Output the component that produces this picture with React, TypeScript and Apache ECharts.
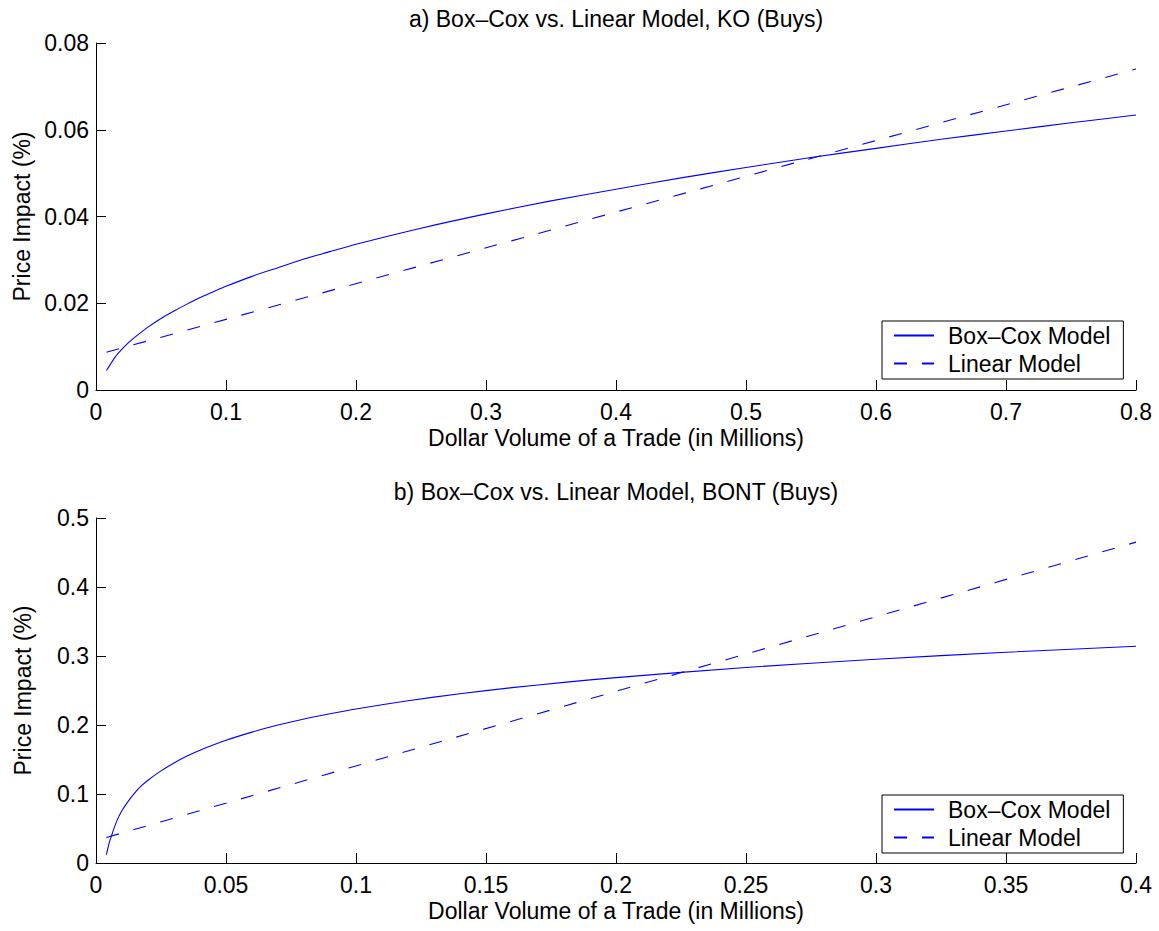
import React, { useEffect, useRef } from "react";
import * as echarts from "echarts";

// ---------- Data ----------
const SERIES_NAMES = ["Box–Cox Model", "Linear Model"];
const TITLES = [
  "a) Box–Cox vs. Linear Model, KO (Buys)",
  "b) Box–Cox vs. Linear Model, BONT (Buys)",
];
const X_AXIS_NAME = "Dollar Volume of a Trade (in Millions)";
const Y_AXIS_NAME = "Price Impact (%)";

// Panel a) KO
const KO_BOXCOX_X = [0.008, 0.01, 0.015, 0.02, 0.025, 0.03, 0.04, 0.05, 0.06, 0.07, 0.08, 0.09, 0.1, 0.12, 0.14, 0.16, 0.18, 0.2, 0.25, 0.3, 0.35, 0.4, 0.45, 0.5, 0.55, 0.6, 0.65, 0.7, 0.75, 0.8];
const KO_BOXCOX_Y = [0.0045, 0.0054, 0.0077, 0.0094, 0.0109, 0.0122, 0.0145, 0.0165, 0.0182, 0.0198, 0.0213, 0.0226, 0.0239, 0.0262, 0.0282, 0.0302, 0.0319, 0.0336, 0.0373, 0.0406, 0.0436, 0.0463, 0.0489, 0.0513, 0.0536, 0.0557, 0.0578, 0.0597, 0.0616, 0.0634];
const KO_LINEAR_X = [0.008, 0.8];
const KO_LINEAR_Y = [0.0087, 0.074];
const KO_X_TICKS = { min: 0, max: 0.8, interval: 0.1 };
const KO_Y_TICKS = { min: 0, max: 0.08, interval: 0.02 };

// Panel b) BONT
const BONT_BOXCOX_X = [0.004, 0.005, 0.006, 0.008, 0.01, 0.0125, 0.015, 0.0175, 0.02, 0.025, 0.03, 0.035, 0.04, 0.05, 0.06, 0.07, 0.08, 0.09, 0.1, 0.12, 0.14, 0.16, 0.18, 0.2, 0.25, 0.3, 0.35, 0.4];
const BONT_BOXCOX_Y = [0.012, 0.028, 0.04, 0.061, 0.076, 0.09, 0.102, 0.112, 0.12, 0.1335, 0.145, 0.155, 0.1635, 0.1778, 0.1897, 0.1999, 0.2086, 0.2163, 0.2233, 0.2352, 0.2453, 0.2541, 0.2618, 0.2687, 0.2834, 0.2953, 0.3054, 0.3142];
const BONT_LINEAR_X = [0.004, 0.4];
const BONT_LINEAR_Y = [0.037, 0.465];
const BONT_X_TICKS = { min: 0, max: 0.4, interval: 0.05 };
const BONT_Y_TICKS = { min: 0, max: 0.5, interval: 0.1 };

const zip = (xs: number[], ys: number[]) => xs.map((x, i) => [x, ys[i]]);

const FONT = "Liberation Sans, Arial, Helvetica, sans-serif";
const BLUE = "#0000ff";

const fmt = (v: number) => String(Math.round(v * 1e6) / 1e6);

function buildOption() {
  const grids = [
    { left: 96, top: 43, width: 1040, height: 347 },
    { left: 96, top: 518, width: 1040, height: 345 },
  ];
  const xTicks = [KO_X_TICKS, BONT_X_TICKS];
  const yTicks = [KO_Y_TICKS, BONT_Y_TICKS];

  const axisCommon = {
    type: "value" as const,
    splitLine: { show: false },
    axisLine: { show: true, onZero: false, lineStyle: { color: "#000", width: 1 } },
    axisTick: { show: true, inside: true, length: 10, lineStyle: { color: "#000", width: 1 } },
    nameTextStyle: { fontFamily: FONT, fontSize: 23, color: "#000" },
  };

  const xAxes = grids.map((_, i) => ({
    ...axisCommon,
    gridIndex: i,
    min: xTicks[i].min,
    max: xTicks[i].max,
    interval: xTicks[i].interval,
    name: X_AXIS_NAME,
    nameLocation: "middle",
    nameGap: 36,
    axisLabel: { fontFamily: FONT, fontSize: 23, color: "#000", margin: 10, formatter: fmt },
  }));
  const yAxes = grids.map((_, i) => ({
    ...axisCommon,
    gridIndex: i,
    min: yTicks[i].min,
    max: yTicks[i].max,
    interval: yTicks[i].interval,
    name: Y_AXIS_NAME,
    nameLocation: "middle",
    nameRotate: 90,
    nameGap: 62,
    axisLabel: { fontFamily: FONT, fontSize: 23, color: "#000", margin: 7, formatter: fmt },
  }));

  const lineSeries = (name: string, data: number[][], idx: number, dashed: boolean) => ({
    type: "line",
    name,
    xAxisIndex: idx,
    yAxisIndex: idx,
    data,
    symbol: "none",
    showSymbol: false,
    smooth: dashed ? false : 0.25,
    lineStyle: { color: BLUE, width: 1.1, type: dashed ? [13, 15] : "solid" },
    itemStyle: { color: BLUE },
    emphasis: { disabled: true },
  });

  const series = [
    lineSeries(SERIES_NAMES[0], zip(KO_BOXCOX_X, KO_BOXCOX_Y), 0, false),
    lineSeries(SERIES_NAMES[1], zip(KO_LINEAR_X, KO_LINEAR_Y), 0, true),
    lineSeries(SERIES_NAMES[0], zip(BONT_BOXCOX_X, BONT_BOXCOX_Y), 1, false),
    lineSeries(SERIES_NAMES[1], zip(BONT_LINEAR_X, BONT_LINEAR_Y), 1, true),
  ];

  const legendCommon = {
    orient: "vertical",
    left: 882,
    data: SERIES_NAMES,
    itemWidth: 40,
    itemHeight: 14,
    itemGap: 5,
    borderColor: "#000",
    borderWidth: 1,
    padding: [3, 13, 4, 11],
    selectedMode: false,
    itemStyle: { opacity: 0 },
    textStyle: { fontFamily: FONT, fontSize: 23, color: "#000", padding: [0, 0, 0, 9] },
  };

  return {
    animation: false,
    backgroundColor: "#fff",
    textStyle: { fontFamily: FONT, color: "#000" },
    title: [
      { text: TITLES[0], left: 616, top: 7, textAlign: "center", padding: 0, textStyle: { fontFamily: FONT, fontSize: 23, fontWeight: "normal", color: "#000" } },
      { text: TITLES[1], left: 616, top: 480, textAlign: "center", padding: 0, textStyle: { fontFamily: FONT, fontSize: 23, fontWeight: "normal", color: "#000" } },
    ],
    legend: [
      { ...legendCommon, top: 321 },
      { ...legendCommon, top: 795 },
    ],
    grid: grids,
    xAxis: xAxes,
    yAxis: yAxes,
    series,
  };
}

export default function App() {
  const ref = useRef<HTMLDivElement>(null);
  useEffect(() => {
    if (!ref.current) return;
    const chart = echarts.init(ref.current, undefined, { renderer: "svg" });
    chart.setOption(buildOption() as any);
    return () => chart.dispose();
  }, []);
  return (
    <div
      ref={ref}
      style={{ position: "absolute", left: 0, top: 0, width: 1159, height: 931, background: "#fff" }}
    />
  );
}
